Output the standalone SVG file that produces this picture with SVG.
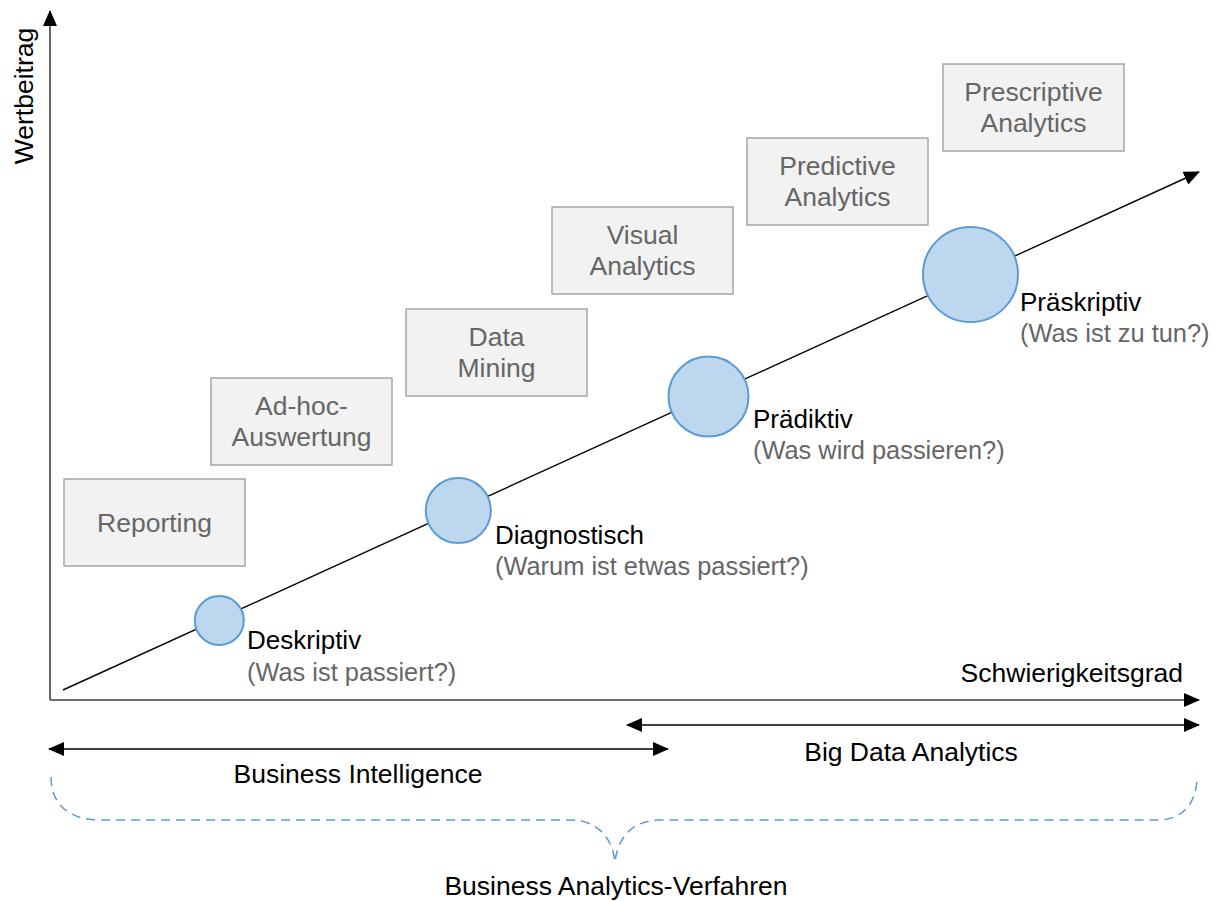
<svg xmlns="http://www.w3.org/2000/svg" width="1219" height="901" viewBox="0 0 1219 901">
  <style>
    text { font-family: "Liberation Sans", Arial, sans-serif; }
    .box rect { fill: #f2f2f2; stroke: #a6a6a6; stroke-width: 1.5; }
    .box text { font-size: 26.5px; fill: #666666; text-anchor: middle; }
    .stage circle { fill: #bdd7ee; stroke: #5b9bd5; stroke-width: 2; }
    .stage .name { font-size: 26px; fill: #000000; }
    .stage .question { font-size: 25.4px; fill: #666666; }
    .lbl { font-size: 26.5px; fill: #000000; }
    .axis { stroke: #404040; stroke-width: 1.6; fill: none; }
    .line { stroke: #000000; stroke-width: 1.4; fill: none; }
    .brace { stroke: #5b9bd5; stroke-width: 1.5; fill: none; stroke-dasharray: 9 6; }
  </style>
  <defs>
    <marker id="arrow" viewBox="0 0 16 14" refX="15" refY="7" markerWidth="16" markerHeight="14" markerUnits="userSpaceOnUse" orient="auto-start-reverse">
      <path d="M0,0 L16,7 L0,14 Z" fill="#000000"/>
    </marker>
  </defs>

  <rect width="1219" height="901" fill="#ffffff"/>

  <!-- axes, trend line, ranges and brace -->
  <g id="connectors">
    <path class="axis" d="M50,700 L50,11" marker-end="url(#arrow)"/>
    <path class="axis" d="M50,700 L1199,700" marker-end="url(#arrow)"/>
    <path class="line" d="M63,690 L1199,172" marker-end="url(#arrow)"/>
    <path class="line" d="M627,725 L1199,725" marker-start="url(#arrow)" marker-end="url(#arrow)"/>
    <path class="line" d="M49,749 L668,749" marker-start="url(#arrow)" marker-end="url(#arrow)"/>
    <path class="brace" d="M51,777 C51,805 70,820 100,820 L570,820 C595,820 612,835 615,862 C618,835 635,820 660,820 L1158,820 C1185,820 1197,800 1197,777"/>
  </g>

  <!-- axis and range labels -->
  <g id="axis-labels">
    <text class="lbl" transform="translate(33,96) rotate(-90)" text-anchor="middle">Wertbeitrag</text>
    <text class="lbl" x="1183" y="682" text-anchor="end">Schwierigkeitsgrad</text>
    <text class="lbl" x="911" y="761" text-anchor="middle">Big Data Analytics</text>
    <text class="lbl" x="358" y="783" text-anchor="middle">Business Intelligence</text>
    <text class="lbl" x="616" y="895" text-anchor="middle">Business Analytics-Verfahren</text>
  </g>

  <!-- method boxes -->
  <g id="box-reporting" class="box">
    <rect x="64" y="479" width="181" height="87"/>
    <text x="154.5" y="532">Reporting</text>
  </g>
  <g id="box-adhoc" class="box">
    <rect x="211" y="378" width="181" height="87"/>
    <text x="301.5" y="415">Ad-hoc-</text>
    <text x="301.5" y="446">Auswertung</text>
  </g>
  <g id="box-datamining" class="box">
    <rect x="406" y="309" width="181" height="87"/>
    <text x="496.5" y="346">Data</text>
    <text x="496.5" y="377">Mining</text>
  </g>
  <g id="box-visual" class="box">
    <rect x="552" y="207" width="181" height="87"/>
    <text x="642.5" y="244">Visual</text>
    <text x="642.5" y="275">Analytics</text>
  </g>
  <g id="box-predictive" class="box">
    <rect x="747" y="138" width="181" height="87"/>
    <text x="837.5" y="175">Predictive</text>
    <text x="837.5" y="206">Analytics</text>
  </g>
  <g id="box-prescriptive" class="box">
    <rect x="943" y="64" width="181" height="87"/>
    <text x="1033.5" y="101">Prescriptive</text>
    <text x="1033.5" y="132">Analytics</text>
  </g>

  <!-- analytics stages on the trend line -->
  <g id="stage-deskriptiv" class="stage">
    <circle cx="219.3" cy="620.5" r="24.5"/>
    <text class="name" x="247" y="649">Deskriptiv</text>
    <text class="question" x="247" y="681">(Was ist passiert?)</text>
  </g>
  <g id="stage-diagnostisch" class="stage">
    <circle cx="458.3" cy="510.5" r="32.5"/>
    <text class="name" x="495" y="544">Diagnostisch</text>
    <text class="question" x="495" y="575">(Warum ist etwas passiert?)</text>
  </g>
  <g id="stage-praediktiv" class="stage">
    <circle cx="708.5" cy="396.5" r="40"/>
    <text class="name" x="753" y="428">Prädiktiv</text>
    <text class="question" x="753" y="459">(Was wird passieren?)</text>
  </g>
  <g id="stage-praeskriptiv" class="stage">
    <circle cx="970.5" cy="274.5" r="47.5"/>
    <text class="name" x="1020" y="311">Präskriptiv</text>
    <text class="question" x="1020" y="342">(Was ist zu tun?)</text>
  </g>
</svg>
